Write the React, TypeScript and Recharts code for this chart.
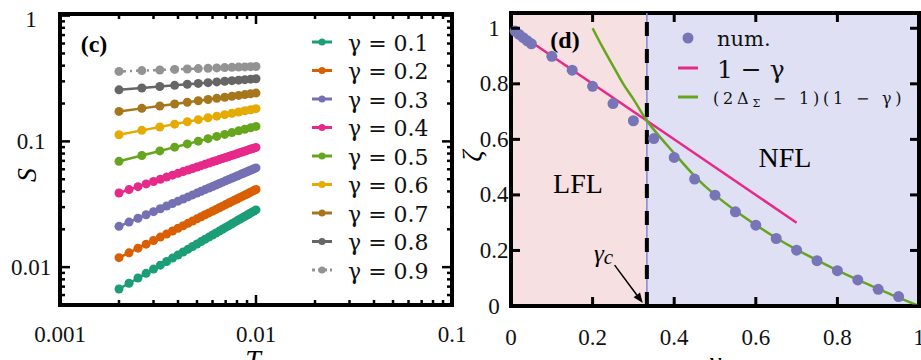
import React from "react";
import {
  ComposedChart,
  Legend,
  Line,
  LineChart,
  ReferenceArea,
  ReferenceLine,
  Scatter,
  XAxis,
  YAxis,
} from "recharts";

// ---- panel (c): S(T) on log-log axes ----
const T_SPARSE = [
  0.002, 0.002615, 0.003231, 0.003846, 0.004462, 0.005077, 0.005692, 0.006308, 0.006923, 0.007538,
  0.008154, 0.008769, 0.009385, 0.01,
];
const T_DENSE = [
  0.002, 0.00225, 0.0025, 0.00275, 0.003, 0.00325, 0.0035, 0.00375, 0.004, 0.00425, 0.0045, 0.00475,
  0.005, 0.00525, 0.0055, 0.00575, 0.006, 0.00625, 0.0065, 0.00675, 0.007, 0.00725, 0.0075, 0.00775,
  0.008, 0.00825, 0.0085, 0.00875, 0.009, 0.00925, 0.0095, 0.00975, 0.01,
];

const S_G01 = [
  0.0067, 0.00745, 0.00819, 0.00893, 0.00965, 0.01037, 0.01109, 0.0118, 0.0125, 0.0132, 0.0139, 0.01459,
  0.01528, 0.01597, 0.01665, 0.01733, 0.01801, 0.01868, 0.01936, 0.02002, 0.02069, 0.02135, 0.02202,
  0.02268, 0.02333, 0.02399, 0.02464, 0.02529, 0.02594, 0.02659, 0.02723, 0.02788, 0.02852,
];
const S_G02 = [
  0.0119, 0.013, 0.01415, 0.01523, 0.0163, 0.01734, 0.01836, 0.01937, 0.02037, 0.02134, 0.02231, 0.02327,
  0.02421, 0.02514, 0.02607, 0.02698, 0.02788, 0.02878, 0.02967, 0.03055, 0.03142, 0.03229, 0.03315,
  0.034, 0.03484, 0.03568, 0.03652, 0.03735, 0.03817, 0.03899, 0.03981, 0.04062, 0.04142,
];
const S_G03 = [
  0.0211, 0.02282, 0.02448, 0.02608, 0.02763, 0.02914, 0.03061, 0.03205, 0.03346, 0.03483, 0.03618,
  0.03751, 0.03881, 0.04009, 0.04135, 0.04259, 0.04381, 0.04502, 0.0462, 0.04738, 0.04854, 0.04968,
  0.05082, 0.05194, 0.05304, 0.05414, 0.05523, 0.0563, 0.05737, 0.05842, 0.05947, 0.0605, 0.06153,
];
const S_G04 = [
  0.0389, 0.04135, 0.04367, 0.04588, 0.04799, 0.05002, 0.05198, 0.05387, 0.0557, 0.05748, 0.05921,
  0.06089, 0.06253, 0.06413, 0.06569, 0.06722, 0.06872, 0.07019, 0.07163, 0.07304, 0.07443, 0.0758,
  0.07714, 0.07846, 0.07976, 0.08105, 0.08231, 0.08356, 0.08478, 0.086, 0.08719, 0.08837, 0.08954,
];
const S_G05 = [0.0694, 0.0772, 0.08395, 0.08997, 0.09544, 0.10046, 0.10512, 0.10949, 0.11361, 0.11752, 0.12124, 0.12479, 0.12819, 0.13146];
const S_G06 = [0.113, 0.12233, 0.13023, 0.13713, 0.1433, 0.14888, 0.154, 0.15876, 0.1632, 0.16737, 0.1713, 0.17503, 0.17858, 0.18197];
const S_G07 = [0.173, 0.183, 0.1913, 0.1984, 0.2046, 0.2102, 0.2153, 0.2199, 0.2243, 0.2283, 0.2321, 0.2356, 0.239, 0.2422];
const S_G08 = [0.257, 0.2659, 0.273, 0.2791, 0.2844, 0.289, 0.2932, 0.2971, 0.3006, 0.3038, 0.3068, 0.3097, 0.3123, 0.3148];
const S_G09 = [0.36, 0.3654, 0.3698, 0.3734, 0.3765, 0.3793, 0.3817, 0.3839, 0.3859, 0.3878, 0.3895, 0.3911, 0.3926, 0.394];

const GAMMA_LABELS = ["0.1", "0.2", "0.3", "0.4", "0.5", "0.6", "0.7", "0.8", "0.9"];

const C_X_TICKS = [
  0.001, 0.002, 0.003, 0.004, 0.005, 0.006, 0.007, 0.008, 0.009,
  0.01, 0.02, 0.03, 0.04, 0.05, 0.06, 0.07, 0.08, 0.09, 0.1,
];
const C_Y_TICKS = [
  0.005, 0.006, 0.007, 0.008, 0.009,
  0.01, 0.02, 0.03, 0.04, 0.05, 0.06, 0.07, 0.08, 0.09,
  0.1, 0.2, 0.3, 0.4, 0.5, 0.6, 0.7, 0.8, 0.9, 1,
];

// ---- panel (d): zeta vs gamma ----
const NUM_GAMMA = [0.01, 0.02, 0.03, 0.04, 0.05, 0.1, 0.15, 0.2, 0.25, 0.3, 0.35, 0.4, 0.45, 0.5, 0.55, 0.6, 0.65, 0.7, 0.75, 0.8, 0.85, 0.9, 0.95];
const NUM_ZETA = [0.99, 0.978, 0.966, 0.955, 0.944, 0.899, 0.849, 0.791, 0.729, 0.667, 0.603, 0.535, 0.457, 0.399, 0.339, 0.291, 0.243, 0.201, 0.163, 0.127, 0.094, 0.06, 0.034];
const LIN_GAMMA = [0, 0.7];
const LIN_ZETA = [1, 0.3];
const FIT_GAMMA = [0.2, 0.225, 0.25, 0.275, 0.3, 0.333, 0.35, 0.4, 0.45, 0.5, 0.55, 0.6, 0.65, 0.7, 0.75, 0.8, 0.85, 0.9, 0.95, 1];
const FIT_ZETA = [1.0, 0.93, 0.865, 0.8, 0.745, 0.667, 0.635, 0.55, 0.468, 0.4, 0.343, 0.292, 0.245, 0.203, 0.165, 0.128, 0.094, 0.062, 0.03, 0];
const GAMMA_C = 0.333;
const D_TICKS = [0, 0.2, 0.4, 0.6, 0.8, 1];
const D_NAMES = ["num.", "1 − γ", "(2Δ_Σ − 1)(1 − γ)"];

const SERIF = "'Liberation Serif', 'Times New Roman', serif";
const MATH = "'DejaVu Serif', serif";

const SERIES = [
  { label: GAMMA_LABELS[0], t: T_DENSE, s: S_G01, color: "#1b9e77" },
  { label: GAMMA_LABELS[1], t: T_DENSE, s: S_G02, color: "#d95f02" },
  { label: GAMMA_LABELS[2], t: T_DENSE, s: S_G03, color: "#7570b3" },
  { label: GAMMA_LABELS[3], t: T_DENSE, s: S_G04, color: "#e7298a" },
  { label: GAMMA_LABELS[4], t: T_SPARSE, s: S_G05, color: "#66a61e" },
  { label: GAMMA_LABELS[5], t: T_SPARSE, s: S_G06, color: "#e6ab02" },
  { label: GAMMA_LABELS[6], t: T_SPARSE, s: S_G07, color: "#a6761d" },
  { label: GAMMA_LABELS[7], t: T_SPARSE, s: S_G08, color: "#666666" },
  { label: GAMMA_LABELS[8], t: T_SPARSE, s: S_G09, color: "#939393", dash: "7 4 2 4" },
];

// plot box of panel (c) in chart pixels
const C_L = 60, C_R = 452, C_T = 14, C_B = 305;
// plot box of panel (d) in chart pixels (chart placed at x=460)
const D_L = 51, D_R = 459, D_T = 13, D_B = 306;

function isDecade(v: number) {
  const l = Math.log10(v);
  return Math.abs(l - Math.round(l)) < 1e-6;
}

function CXTick(props: any) {
  const { x, payload } = props;
  const major = isDecade(payload.value);
  const len = major ? 10 : 5;
  return (
    <g>
      <line x1={x} x2={x} y1={C_B} y2={C_B - len} stroke="#000" strokeWidth={2.5} />
      <line x1={x} x2={x} y1={C_T} y2={C_T + len} stroke="#000" strokeWidth={2.5} />
      {major && (
        <text x={x} y={334} textAnchor="middle" dominantBaseline="central" fontFamily={SERIF} fontSize={23} fill="#111">
          {String(payload.value)}
        </text>
      )}
    </g>
  );
}

function CYTick(props: any) {
  const { y, payload } = props;
  const major = isDecade(payload.value);
  const len = major ? 10 : 5;
  return (
    <g>
      <line x1={C_L} x2={C_L + len} y1={y} y2={y} stroke="#000" strokeWidth={2.5} />
      <line x1={C_R} x2={C_R - len} y1={y} y2={y} stroke="#000" strokeWidth={2.5} />
      {major && (
        <text x={31} y={Math.max(y, 19)} textAnchor="middle" dominantBaseline="central" fontFamily={SERIF} fontSize={23} fill="#111">
          {String(payload.value)}
        </text>
      )}
    </g>
  );
}

function DXTick(props: any) {
  const { x, payload } = props;
  return (
    <g>
      <line x1={x} x2={x} y1={D_B} y2={D_B - 9} stroke="#000" strokeWidth={3} />
      <line x1={x} x2={x} y1={D_T} y2={D_T + 9} stroke="#000" strokeWidth={3} />
      <text x={x} y={337} textAnchor="middle" dominantBaseline="central" fontFamily={SERIF} fontSize={23} fill="#111">
        {String(payload.value)}
      </text>
    </g>
  );
}

function DYTick(props: any) {
  const { y, payload } = props;
  return (
    <g>
      <line x1={D_L} x2={D_L + 9} y1={y} y2={y} stroke="#000" strokeWidth={3} />
      <line x1={D_R} x2={D_R - 9} y1={y} y2={y} stroke="#000" strokeWidth={3} />
      <text x={34} y={y} textAnchor="middle" dominantBaseline="central" fontFamily={SERIF} fontSize={23} fill="#111">
        {String(payload.value)}
      </text>
    </g>
  );
}

function Arrow(p: any) {
  const { x1, y1, x2, y2 } = p;
  const a = Math.atan2(y2 - y1, x2 - x1);
  const bx = x2 - 10 * Math.cos(a);
  const by = y2 - 10 * Math.sin(a);
  const w = 4;
  const pts = `${x2},${y2} ${bx + w * Math.sin(a)},${by - w * Math.cos(a)} ${bx - w * Math.sin(a)},${by + w * Math.cos(a)}`;
  return (
    <g>
      <line x1={x1} y1={y1} x2={bx} y2={by} stroke="#000" strokeWidth={1.5} />
      <polygon points={pts} fill="#000" />
    </g>
  );
}

function GammaLegend({ payload }: any) {
  return (
    <svg width={140} height={260}>
      {(payload || []).map((e: any, i: number) => {
        const y = 14 + i * 28.5;
        const dash = e.payload && e.payload.strokeDasharray ? "3 3" : undefined;
        return (
          <g key={e.value}>
            <line x1={0} x2={20} y1={y} y2={y} stroke={e.color} strokeWidth={3} strokeDasharray={dash} />
            <circle cx={10} cy={y} r={3.5} fill={e.color} />
            <text x={36} y={y + 1} dominantBaseline="central" fontFamily={MATH} fontSize={22} fill="#111">
              {e.value}
            </text>
          </g>
        );
      })}
    </svg>
  );
}

function ZetaLegend({ payload }: any) {
  const rows = [...(payload || [])].sort((a: any, b: any) => D_NAMES.indexOf(a.value) - D_NAMES.indexOf(b.value));
  return (
    <svg width={240} height={100}>
      {rows.map((e: any, i: number) => {
        const y = [14, 44, 73][i];
        const name: string = e.value;
        const isScatter = name === D_NAMES[0];
        const isFit = name.includes("_Σ");
        let label: React.ReactNode = name;
        if (isFit) {
          const [a, b] = name.split("_Σ");
          label = (
            <>
              {a}
              <tspan fontSize={11} dy={5}>Σ</tspan>
              <tspan dy={-5}>{b}</tspan>
            </>
          );
        }
        return (
          <g key={name}>
            {isScatter ? (
              <circle cx={12} cy={y} r={5.5} fill={e.color} />
            ) : (
              <line x1={2} x2={22} y1={y} y2={y} stroke={e.color} strokeWidth={3} />
            )}
            <text
              x={isFit ? 37 : 41}
              y={y + 1}
              dominantBaseline="central"
              fontFamily={MATH}
              fontSize={isScatter ? 21 : isFit ? 16 : 25}
              letterSpacing={isFit ? 3.8 : 0}
              fill="#111"
            >
              {label}
            </text>
          </g>
        );
      })}
    </svg>
  );
}

export default function App() {
  const numData = NUM_GAMMA.map((g, i) => ({ g, z: NUM_ZETA[i] }));
  const linData = LIN_GAMMA.map((g, i) => ({ g, z: LIN_ZETA[i] }));
  const fitData = FIT_GAMMA.map((g, i) => ({ g, z: FIT_ZETA[i] }));

  return (
    <div style={{ position: "absolute", left: 0, top: 0, width: 921, height: 360, background: "#fff", overflow: "hidden" }}>
      <div style={{ position: "absolute", left: 0, top: 0 }}>
        <LineChart width={480} height={360} margin={{ top: C_T, right: 480 - C_R, bottom: 0, left: 0 }}>
          <XAxis
            dataKey="t"
            type="number"
            scale="log"
            domain={[0.001, 0.1]}
            allowDataOverflow
            ticks={C_X_TICKS}
            interval={0}
            height={360 - C_B}
            axisLine={false}
            tickLine={false}
            tick={CXTick}
          />
          <YAxis
            type="number"
            scale="log"
            domain={[0.005, 1.03]}
            allowDataOverflow
            ticks={C_Y_TICKS}
            interval={0}
            width={C_L}
            axisLine={false}
            tickLine={false}
            tick={CYTick}
          />
          {SERIES.map((sr) => (
            <Line
              key={sr.label}
              data={sr.t.map((t, i) => ({ t, s: sr.s[i] }))}
              dataKey="s"
              name={`γ = ${sr.label}`}
              stroke={sr.color}
              strokeWidth={2.5}
              strokeDasharray={sr.dash}
              dot={{ r: 4.5, fill: sr.color, stroke: "none" }}
              isAnimationActive={false}
            />
          ))}
          <ReferenceArea x1={0.001} x2={0.1} y1={0.005} y2={1.03} fill="none" stroke="#000" strokeWidth={4} />
          <Legend
            layout="horizontal"
            align="center"
            verticalAlign="middle"
            content={GammaLegend}
            wrapperStyle={{ left: 312, top: 28, width: 140, height: 260 }}
          />
        </LineChart>
      </div>

      <div style={{ position: "absolute", left: 460, top: 0 }}>
        <ComposedChart width={461} height={360} margin={{ top: D_T, right: 461 - D_R, bottom: 0, left: 0 }}>
          <XAxis
            dataKey="g"
            type="number"
            domain={[0, 1]}
            ticks={D_TICKS}
            interval={0}
            height={360 - D_B}
            axisLine={false}
            tickLine={false}
            tick={DXTick}
          />
          <YAxis
            dataKey="z"
            type="number"
            domain={[0, 1.055]}
            allowDataOverflow
            ticks={D_TICKS}
            interval={0}
            width={D_L}
            axisLine={false}
            tickLine={false}
            tick={DYTick}
          />
          <ReferenceArea x1={0} x2={GAMMA_C} y1={0} y2={1.055} fill="#f6e0e1" fillOpacity={1} stroke="none" zIndex={-200} />
          <ReferenceArea x1={GAMMA_C} x2={1} y1={0} y2={1.055} fill="#dfe0f4" fillOpacity={1} stroke="none" zIndex={-200} />
          <ReferenceLine x={GAMMA_C} stroke="#8783d4" strokeWidth={1.5} />
          <ReferenceLine x={GAMMA_C} stroke="#000" strokeWidth={4} strokeDasharray="14 13" />
          <ReferenceLine
            segment={[
              { x: 0.254, y: 0.147 },
              { x: 0.323, y: 0.011 },
            ]}
            shape={Arrow}
          />
          <Scatter
            data={numData}
            dataKey="z"
            name={D_NAMES[0]}
            fill="#7874b8"
            isAnimationActive={false}
            shape={(p: any) => <circle cx={p.cx} cy={p.cy} r={5.5} fill="#7874b8" />}
          />
          <Line data={linData} dataKey="z" name={D_NAMES[1]} type="linear" stroke="#e7298a" strokeWidth={2.5} dot={false} isAnimationActive={false} />
          <Line data={fitData} dataKey="z" name={D_NAMES[2]} type="monotone" stroke="#66a61e" strokeWidth={2.5} dot={false} isAnimationActive={false} />
          <ReferenceArea x1={0} x2={1} y1={0} y2={1.055} fill="none" stroke="#000" strokeWidth={4} />
          <Legend
            layout="horizontal"
            align="center"
            verticalAlign="middle"
            content={ZetaLegend}
            wrapperStyle={{ left: 216, top: 24, width: 240, height: 100 }}
          />
        </ComposedChart>
      </div>

      <svg width={921} height={360} style={{ position: "absolute", left: 0, top: 0, pointerEvents: "none" }}>
        <text x={94} y={44} textAnchor="middle" dominantBaseline="central" fontFamily={SERIF} fontWeight="bold" fontSize={24}>(c)</text>
        <text x={565} y={40} textAnchor="middle" dominantBaseline="central" fontFamily={SERIF} fontWeight="bold" fontSize={24}>(d)</text>
        <text x={578} y={183} textAnchor="middle" dominantBaseline="central" fontFamily={SERIF} fontSize={28}>LFL</text>
        <text x={785} y={157} textAnchor="middle" dominantBaseline="central" fontFamily={SERIF} fontSize={28}>NFL</text>
        <text x={594} y={262} fontFamily={SERIF} fontStyle="italic" fontSize={25}>
          γ<tspan fontSize={21} dy={2}>c</tspan>
        </text>
        <text x={26} y={175} textAnchor="middle" dominantBaseline="central" fontFamily={SERIF} fontStyle="italic" fontSize={28} transform="rotate(-90 26 175)">S</text>
        <text x={471} y={156} textAnchor="middle" dominantBaseline="central" fontFamily={SERIF} fontStyle="italic" fontSize={28} transform="rotate(-90 471 156)">ζ</text>
        <text x={253} y={369} textAnchor="middle" fontFamily={SERIF} fontStyle="italic" fontSize={28}>T</text>
        <text x={715} y={371} textAnchor="middle" fontFamily={SERIF} fontStyle="italic" fontSize={28}>γ</text>
      </svg>
    </div>
  );
}
